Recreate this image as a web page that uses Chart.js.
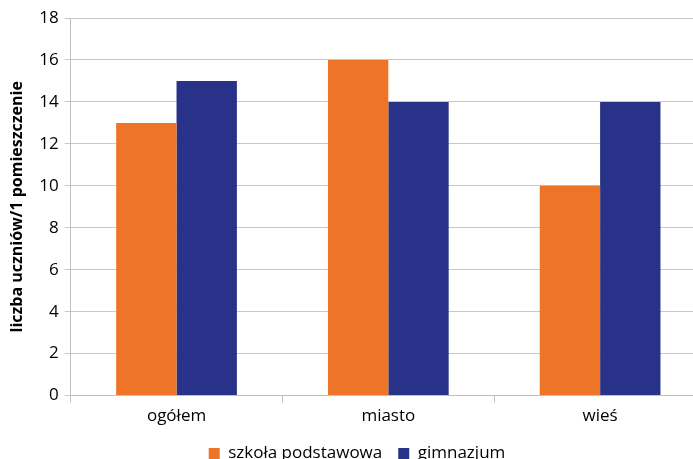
<!DOCTYPE html>
<html>
<head>
<meta charset="utf-8">
<script src="https://cdn.jsdelivr.net/npm/chart.js@4/dist/chart.umd.min.js"></script>
<style>
  html, body { margin: 0; padding: 0; background: #fff; overflow: hidden; }
  #wrap { width: 706px; height: 472px; position: relative; }
</style>
</head>
<body>
<div id="wrap"><canvas id="chart"></canvas></div>
<script>
// data
var categories = ['ogółem', 'miasto', 'wieś']
var seriesNames = ['szkoła podstawowa', 'gimnazjum']
var podstawowa = [13, 16, 10]
var gimnazjum = [15, 14, 14]
var yTicks = [0, 2, 4, 6, 8, 10, 12, 14, 16, 18]

var font = "'Open Sans', 'Liberation Sans', sans-serif"

var ctx = document.getElementById('chart').getContext('2d')
var chart = new Chart(ctx, {
    type: 'bar',
    data: {
        labels: categories,
        datasets: [{
                label: seriesNames[0],
                backgroundColor: '#EE7428',
                data: podstawowa
            },
            {
                label: seriesNames[1],
                backgroundColor: '#283288',
                data: gimnazjum
            }
        ]
    },
    options: {
        responsive: true,
        maintainAspectRatio: false,
        animation: false,
        categoryPercentage: 0.57,
        barPercentage: 1.0,
        layout: { padding: { top: 18, left: 8, right: 0, bottom: 0 } },
        plugins: {
            legend: {
                position: 'bottom',
                labels: {
                    boxWidth: 11,
                    boxHeight: 11,
                    padding: 16,
                    color: '#000',
                    font: { family: font, size: 17 }
                }
            },
            tooltip: { enabled: false }
        },
        scales: {
            x: {
                grid: {
                    drawOnChartArea: false,
                    tickLength: 7,
                    color: '#BFBFBF'
                },
                border: { color: '#BFBFBF' },
                ticks: {
                    color: '#000',
                    padding: 3,
                    font: { family: font, size: 17 }
                }
            },
            y: {
                min: 0,
                max: 18,
                afterBuildTicks: function (axis) {
                    axis.ticks = yTicks.map(function (v) { return { value: v } })
                },
                grid: {
                    color: '#C8C8C8',
                    tickLength: 6
                },
                border: { color: '#BFBFBF' },
                ticks: {
                    color: '#000',
                    padding: 6,
                    font: { family: font, size: 17 }
                },
                title: {
                    display: true,
                    text: 'liczba uczniów/1 pomieszczenie',
                    color: '#000',
                    padding: { top: 0, bottom: 6 },
                    font: { family: font, size: 16, weight: 'bold' }
                }
            }
        }
    }
})
</script>
</body>
</html>
